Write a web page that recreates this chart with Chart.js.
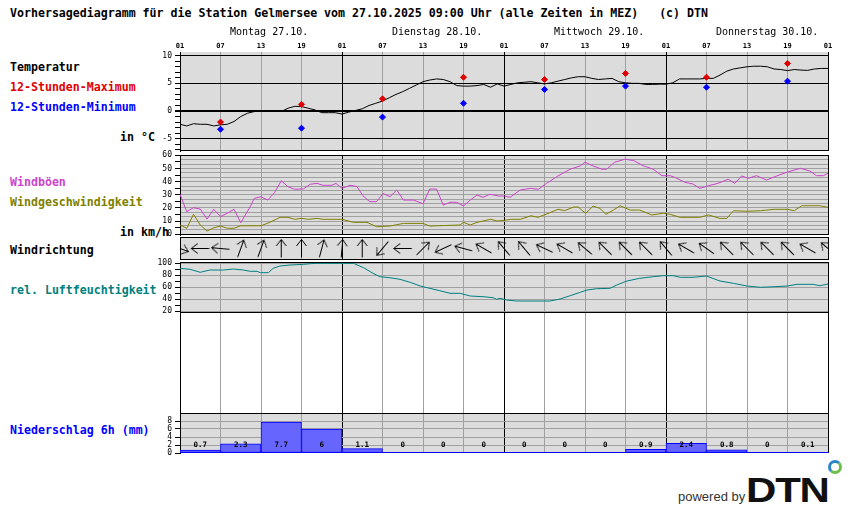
<!DOCTYPE html>
<html><head><meta charset="utf-8">
<script src="https://cdn.jsdelivr.net/npm/chart.js@4/dist/chart.umd.min.js"></script>
<style>
html,body{margin:0;padding:0;background:#fff;}
#wrap{position:relative;width:850px;height:524px;overflow:hidden;background:#fff;}
canvas{position:absolute;left:0;}
.lbl{position:absolute;font-family:'DejaVu Sans Mono',monospace;font-weight:bold;font-size:11.6px;line-height:14px;white-space:pre;}
</style></head><body>
<div id="wrap">
<div class="lbl" style="left:10px;top:6px">Vorhersagediagramm für die Station Gelmersee vom 27.10.2025 09:00 Uhr (alle Zeiten in MEZ)   (c) DTN</div>
<div class="lbl" style="left:10px;top:60px;color:#000">Temperatur</div>
<div class="lbl" style="left:10px;top:80px;color:#e00000">12-Stunden-Maximum</div>
<div class="lbl" style="left:10px;top:100px;color:#0000ff">12-Stunden-Minimum</div>
<div class="lbl" style="left:120px;top:130px;color:#000">in °C</div>
<div class="lbl" style="left:10px;top:175px;color:#cc44cc">Windböen</div>
<div class="lbl" style="left:10px;top:195px;color:#808000">Windgeschwindigkeit</div>
<div class="lbl" style="left:120px;top:225px;color:#000">in km/h</div>
<div class="lbl" style="left:10px;top:243px;color:#000">Windrichtung</div>
<div class="lbl" style="left:10px;top:283px;color:#008080">rel. Luftfeuchtigkeit</div>
<div class="lbl" style="left:10px;top:423px;color:#0000ff">Niederschlag 6h (mm)</div>
<canvas id="cTemp" width="850" height="157" style="top:0px"></canvas>
<canvas id="cWind" width="850" height="92" style="top:149px"></canvas>
<canvas id="cDir" width="850" height="23" style="top:237px"></canvas>
<canvas id="cHum" width="850" height="63" style="top:256px"></canvas>
<canvas id="cPrec" width="850" height="152" style="top:307px"></canvas>
<div style="position:absolute;left:678px;top:489px;font-family:'Liberation Sans',Arial,sans-serif;font-size:13px;color:#333;">powered by</div>
<div style="position:absolute;left:746px;top:470px;font-family:'Liberation Sans',Arial,sans-serif;font-weight:bold;font-size:35px;line-height:40px;color:#111;transform:scaleX(1.2);transform-origin:left top;letter-spacing:-1px;">DTN</div>
<div style="position:absolute;left:828px;top:460px;width:8px;height:8px;border-radius:50%;border:3px solid #2a86c8;border-right-color:#6cbf4a;border-bottom-color:#6cbf4a;"></div>
</div>
<script>
// ---------------- data ----------------
const hourLabels = ['01','07','13','19','01','07','13','19','01','07','13','19','01','07','13','19','01'];
const dayLabels = ['Montag 27.10.','Dienstag 28.10.','Mittwoch 29.10.','Donnerstag 30.10.'];

const tempHours = Array.from({length:97},(_, i)=>i);
const tempValues = [-2.4,-2.7,-2.3,-2.4,-2.4,-2.7,-2.5,-2.4,-1.9,-1.0,-0.4,-0.1,0,0,0,-0.1,0.5,0.85,0.8,0.5,0.2,-0.3,-0.3,-0.3,-0.55,
  -0.2,0.1,0.4,1.0,1.4,1.8,2.4,3.0,3.5,4.1,4.7,5.3,5.6,5.8,5.7,5.3,4.6,4.5,4.5,4.6,4.8,4.3,4.9,4.5,
  4.8,5.1,5.2,5.3,5.1,4.9,5.1,5.4,5.7,6.0,6.2,6.2,5.9,5.7,5.8,5.9,5.3,5.1,5.0,5.0,4.8,4.8,4.85,4.85,
  5.1,5.8,5.8,5.8,5.8,5.9,5.9,6.5,7.2,7.6,7.8,8.0,8.1,8.1,8.0,7.6,7.5,7.3,7.5,7.4,7.35,7.6,7.7,7.7];

const extremeHours = [6,18,30,42,54,66,78,90];
const maxValues = [-2.0,1.2,2.2,6.1,5.7,6.8,6.1,8.6];
const minValues = [-3.3,-3.1,-1.1,1.4,3.9,4.5,4.3,5.4];

const gustHours = [0,1,2,3,4,5,6,7,8,9,10.4,11,12,13,14,15,16,17,18.3,19.3,20.3,21.2,22.5,23.1,24,25.2,26.2,27.1,28.1,29.1,30.1,31.1,32.1,33.1,34.6,36,37,38,39,40,41,42,43,44,44.9,45.9,47.2,48.1,48.9,50.4,51.9,53.1,54.3,56,57.8,59.3,60,61.2,62.5,63.2,64.4,65.9,67.2,68.6,70.1,71.4,72.6,73.3,74.8,76,77,78.3,79.7,81.2,82.2,83.2,84.2,85.4,86.9,88.4,89.9,91.9,93.3,94.3,95.3,96];
const gustValues = [30.4,17.2,20.2,19.2,11.6,19,13.4,16,19,8.8,21,27.3,28.5,26,31.6,40.7,36.1,34.2,34.5,38,38.7,37.2,37.2,38.7,34.9,37.2,36.3,29.3,24.8,24.8,31,28.5,33.6,26,26,23.2,34.4,34.4,22.2,24.3,24.3,21.5,26,29.8,28.1,30.4,29.1,29.1,28.1,33.6,34.9,34.2,38.7,44.3,49.4,51.9,54.7,51.9,49.4,49.4,54.7,57,56,52.1,49.4,44.5,44.5,43.3,39.5,38.2,34.9,36.9,38.7,41.8,38.7,44.3,42.5,44.5,41.2,44.3,47.1,50.1,48.1,44.5,44.5,46.3];

const windHours = [0,1,2,3,4,5,6,7,8,9,12,13.3,14.8,16,17,18,19,20.3,21.2,24,25.7,27.7,29.1,31.1,33.1,36,37,41.5,42,43,44,46,47,48,49,50.4,52,53,54.3,56,57,58.3,59,60.1,61.2,62.2,63.1,64.2,65.2,66.7,68.1,69.9,71.6,72.6,74.1,77,78.3,80,81,82,84,86,88,90,91,92.1,94.8,96];
const windValues = [7.1,4.6,15.2,7.1,2.5,5,6.3,4.6,4.6,6.5,6.5,9.1,12.9,12.9,11.4,12.1,11.4,12.1,11.4,11.4,9.1,9.1,5.8,6.3,8.3,8.3,6.3,7.1,9.1,7.1,9.1,11.4,10.1,10.6,11.4,11.4,14.1,12.9,15.4,19,18,20.7,20.7,15.9,21.5,19.7,15.2,18.4,21.7,18.4,18.4,14.7,16,15.2,12.9,12.9,14.7,12.1,12.1,17.9,17.5,17.9,19,19,17.9,21.7,21.7,20.5];

// direction the arrow points to (degrees, clockwise from north), every 3 hours
const dirHours = [0,3,6,9,12,15,18,21,24,27,30,33,36,39,42,45,48,51,54,57,60,63,66,69,72,75,78,81,84,87,90,93,96];
const dirValues = [110,270,275,20,20,0,0,15,5,0,220,270,45,245,285,300,320,320,295,300,310,315,315,315,320,300,305,315,315,315,315,300,310];

const humHours = [0,1.5,3,4.4,6.4,7.9,9.4,10.4,11.4,11.9,13.1,13.8,14.8,16.3,18.3,19.3,20.4,25.7,27.2,28.6,29.6,31.1,32.6,34.1,35.6,37,38.5,40,41.5,43,44.9,46.4,46.9,47.4,48.4,49.9,54.8,56.3,57.8,59.3,60.3,61.7,63.7,64.7,66.2,68.1,70.1,71.6,73.1,74.1,76,78,80,82,84,86,88,90,91.4,93.8,94.8,96];
const humValues = [91.7,90,85,88.8,88.8,90.5,88.8,86.7,86.7,84.4,84.4,91.7,95.5,97.2,98.3,99.4,100,100,92.7,83.3,77.7,76,73.3,68.3,62.2,58.3,54.3,50,50,45.5,44.4,42.7,40,41.7,38.8,37.2,37.2,40.5,46,51.7,55.5,57.7,58.3,63.8,70.5,75,77.7,79.4,79.4,76.7,76.7,78.8,70.5,66.6,62.2,60,61,62.2,65,65,62.7,65.5];

const precipHours = [3,9,15,21,27,33,39,45,51,57,63,69,75,81,87,93];
const precipValues = [0.7,2.3,7.7,6,1.1,0,0,0,0,0,0,0.9,2.4,0.8,0,0.1];

// ---------------- helpers ----------------
const FONT = "'DejaVu Sans Mono', monospace";
const GRID = '#a0a0a0';
const xGridColor = c => (c.tick && (Math.round(c.tick.value) % 24) === 0) ? '#000000' : GRID;
const isMul = (v, m) => Math.abs(v / m - Math.round(v / m)) < 1e-6;

function zeroPad(s){ s.paddingLeft = 0; s.paddingRight = 0; s.paddingTop = 0; s.paddingBottom = 0; }

function hiddenX() {
  return { type:'linear', min:0, max:96, offset:false,
    ticks:{ display:false, stepSize:6, autoSkip:false },
    grid:{ offset:false, drawTicks:false, color:xGridColor, lineWidth:1 },
    border:{ display:false },
    afterFit(s){ s.height = 0; zeroPad(s); } };
}
function leftY(c) {
  return { position:'left', min:c.min, max:c.max,
    ticks:{ display: c.noLabels ? false : true, stepSize:c.step, includeBounds:false, autoSkip:false, padding:3, color:'#000',
      font:{ family:FONT, size:8 }, callback: c.label },
    grid:{ display: c.noGrid ? false : true, drawOnChartArea: c.gridColor ? true : false, color: c.gridColor || GRID,
      lineWidth: c.gridWidth || 1, tickColor: c.tickColor || '#000', tickLength:5, drawTicks:true },
    border:{ display:true, color:'#000' },
    afterFit(s){ s.width = 180; zeroPad(s); } };
}

const panelPlugin = {
  id:'panel',
  beforeDraw(chart, _a, o) {
    const a = chart.chartArea, ctx = chart.ctx;
    const top = (o && o.greyTop != null) ? Math.round(chart.scales.y.getPixelForValue(o.greyTop)) : a.top;
    ctx.save(); ctx.fillStyle = '#dcdcdc'; ctx.fillRect(a.left, top, a.right - a.left, a.bottom - top); ctx.restore();
  },
  afterDraw(chart, _a, o) {
    if (!o) return;
    const a = chart.chartArea, ctx = chart.ctx;
    const top = (o.greyTop != null) ? Math.round(chart.scales.y.getPixelForValue(o.greyTop)) : a.top;
    ctx.save(); ctx.lineWidth = 1;
    if (o.topLine) { ctx.strokeStyle = o.topLine; ctx.beginPath(); ctx.moveTo(a.left, top + 0.5); ctx.lineTo(a.right + 1, top + 0.5); ctx.stroke(); }
    if (o.bottomLine) { ctx.strokeStyle = o.bottomLine; ctx.beginPath(); ctx.moveTo(a.left, a.bottom - 0.5); ctx.lineTo(a.right + 1, a.bottom - 0.5); ctx.stroke(); }
    ctx.restore();
  }
};

const dayPlugin = {
  id:'days',
  afterDraw(chart) {
    const ctx = chart.ctx, xs = chart.scales.x;
    ctx.save(); ctx.font = '10px ' + FONT; ctx.fillStyle = '#000'; ctx.textAlign = 'left'; ctx.textBaseline = 'middle';
    dayLabels.forEach((d, i) => ctx.fillText(d, xs.getPixelForValue(i * 24) + 50, 32));
    ctx.restore();
  }
};

const precipLabelPlugin = {
  id:'precipLabels',
  afterDatasetsDraw(chart) {
    const ctx = chart.ctx, xs = chart.scales.x, ys = chart.scales.y;
    ctx.save(); ctx.font = 'bold 7.5px ' + FONT; ctx.fillStyle = '#000'; ctx.textAlign = 'center'; ctx.textBaseline = 'middle';
    precipHours.forEach((h, i) => ctx.fillText(String(precipValues[i]), xs.getPixelForValue(h), ys.getPixelForValue(0) - 8));
    ctx.restore();
  }
};

function makeChart(id, cfg) {
  return new Chart(document.getElementById(id), {
    type: cfg.type || 'line',
    data: { datasets: cfg.datasets },
    options: {
      responsive:false, animation:false, devicePixelRatio:1, events:[],
      layout:{ autoPadding:false, padding:{ left:0, right:22, top:cfg.padTop || 0, bottom:cfg.padBottom || 0 } },
      plugins:{ legend:{ display:false }, tooltip:{ enabled:false }, panel: cfg.panel },
      scales: cfg.scales,
      elements:{ point:{ radius:0 }, line:{ tension:0, borderWidth:1 } }
    },
    plugins:[panelPlugin].concat(cfg.plugins || [])
  });
}
const pts = (xs, ys) => xs.map((x, i) => ({ x:x, y:ys[i] }));

// ---------------- temperature ----------------
makeChart('cTemp', {
  padBottom: 6,
  datasets:[
    { data: pts(extremeHours, maxValues), showLine:false, pointStyle:'rectRot', pointRadius:3, pointBackgroundColor:'#e00000', pointBorderColor:'#e00000', pointBorderWidth:1 },
    { data: pts(extremeHours, minValues), showLine:false, pointStyle:'rectRot', pointRadius:3, pointBackgroundColor:'#0000ff', pointBorderColor:'#0000ff', pointBorderWidth:1 },
    { data: pts(tempHours, tempValues), borderColor:'#000', borderWidth:1, pointRadius:0 }
  ],
  scales:{
    x: { type:'linear', position:'top', min:0, max:96, offset:false,
      ticks:{ stepSize:6, autoSkip:false, maxRotation:0, padding:2, color:'#000', font:{ family:FONT, size:7, weight:'bold' },
        callback:(v, i) => hourLabels[i] },
      grid:{ offset:false, drawTicks:false, color:xGridColor },
      border:{ display:false },
      afterFit(s){ s.height = 52; zeroPad(s); } },
    y: leftY({ min:-7.23, max:10.67, step:1,
      label: v => isMul(v, 5) ? String(v) : '',
      gridColor: c => isMul(c.tick.value, 5) ? '#000' : 'rgba(0,0,0,0)',
      gridWidth: c => c.tick.value === 0 ? 2 : 1 })
  },
  panel:{ bottomLine:'#000' },
  plugins:[dayPlugin]
});

// ---------------- wind ----------------
makeChart('cWind', {
  padTop: 6, padBottom: 6,
  datasets:[
    { data: pts(gustHours, gustValues), borderColor:'#cc44cc', borderWidth:1, pointRadius:0 },
    { data: pts(windHours, windValues), borderColor:'#808000', borderWidth:1, pointRadius:0 }
  ],
  scales:{
    x: hiddenX(),
    y: leftY({ min:-0.5, max:60.2, step:5, label: v => isMul(v, 10) ? String(v) : '' }),
    yg: { position:'right', min:-0.5, max:60.2,
      ticks:{ display:false, stepSize:10/3, includeBounds:false },
      grid:{ drawTicks:false, color: GRID },
      border:{ display:false },
      afterFit(s){ s.width = 0; zeroPad(s); } }
  },
  panel:{ topLine:'#000', bottomLine:'#000' }
});

// ---------------- wind direction ----------------
const arrowImg = (() => {
  const c = document.createElement('canvas'); c.width = 21; c.height = 21;
  const g = c.getContext('2d'); g.strokeStyle = '#000'; g.lineWidth = 1;
  g.beginPath(); g.moveTo(10.5, 19.5); g.lineTo(10.5, 1.5);
  g.moveTo(5.5, 8); g.lineTo(10.5, 1.5); g.lineTo(15.5, 8); g.stroke();
  return c;
})();
makeChart('cDir', {
  datasets:[
    { data: dirHours.map(h => ({ x:h, y:0.5 })), showLine:false, pointStyle:arrowImg, pointRadius:10, pointRotation:dirValues }
  ],
  scales:{
    x: hiddenX(),
    y: leftY({ min:0, max:1, step:1, noLabels:true, noGrid:true })
  },
  panel:{ topLine:'#000', bottomLine:'#000' }
});

// ---------------- humidity ----------------
makeChart('cHum', {
  padTop: 6, padBottom: 6,
  datasets:[
    { data: pts(humHours, humValues), borderColor:'#008080', borderWidth:1, pointRadius:0 }
  ],
  scales:{
    x: hiddenX(),
    y: leftY({ min:17.2, max:102.2, step:10,
      label: v => isMul(v, 20) ? String(v) : '',
      gridColor: c => isMul(c.tick.value, 20) ? GRID : 'rgba(0,0,0,0)' })
  },
  panel:{ topLine:'#000', bottomLine:'#000' }
});

// ---------------- precipitation ----------------
makeChart('cPrec', {
  type:'bar', padTop: 6, padBottom: 6,
  datasets:[
    { data: pts(precipHours, precipValues), backgroundColor:'#6666ff', borderColor:'#0000ff', borderWidth:1, borderSkipped:false,
      barPercentage:1, categoryPercentage:1 }
  ],
  scales:{
    x: hiddenX(),
    y: leftY({ min:0, max:35, step:2,
      label: v => v <= 8 ? String(v) : '',
      gridColor: c => c.tick.value === 10 ? '#000' : (c.tick.value > 0 && c.tick.value < 10 ? GRID : 'rgba(0,0,0,0)'),
      tickColor: c => c.tick.value <= 8 ? '#000' : 'rgba(0,0,0,0)' })
  },
  panel:{ greyTop:10, bottomLine:'#0000ff' },
  plugins:[precipLabelPlugin]
});
</script>
</body></html>
